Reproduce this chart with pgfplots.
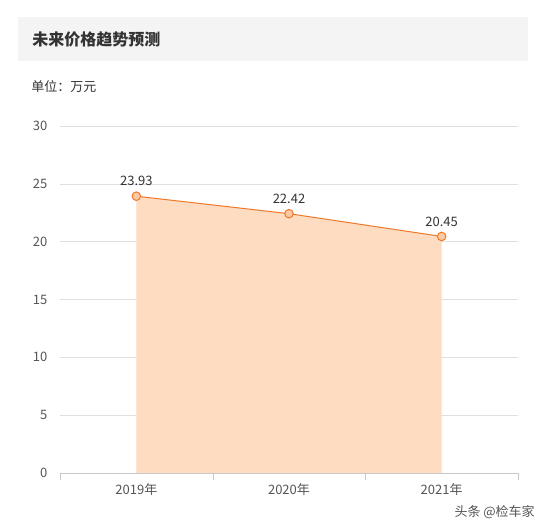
\documentclass[border=0pt]{standalone}
\usepackage{fontspec}
\setmainfont{Noto Sans CJK SC}
\usepackage{pgfplots}
\pgfplotsset{compat=1.18}
\definecolor{lineorange}{HTML}{F0782A}
\definecolor{areafill}{HTML}{FDDCC2}
\definecolor{markfill}{HTML}{FBC9A4}
\definecolor{titlegray}{HTML}{F4F4F4}
\definecolor{gridgray}{HTML}{E0E0E0}
\definecolor{axisgray}{HTML}{C8C8C8}
\definecolor{textdark}{HTML}{333333}
\definecolor{ticktext}{HTML}{555555}

\begin{document}
\begin{tikzpicture}[x=0.75pt,y=0.75pt]
% canvas 544 x 529 px
\fill[white] (0,0) rectangle (544,529);
\fill[titlegray] (18,468) rectangle (528,512);
\node[anchor=west,inner sep=0pt,text=textdark,font=\bfseries\fontsize{12}{14}\selectfont] at (32,490) {未来价格趋势预测};
\node[anchor=west,inner sep=0pt,text=textdark,font=\fontsize{9.75}{12}\selectfont] at (31,442) {单位：万元};

\begin{axis}[
    at={(45pt,42pt)}, anchor=south west,
    scale only axis,
    width=343.5pt, height=260.25pt,
    xmin=-0.5, xmax=2.5,
    ymin=0, ymax=30,
    ytick={0,5,...,30},
    xtick={0,1,2},
    xticklabels={2019年,2020年,2021年},
    axis lines*=left,
    x axis line style={draw=axisgray,-},
    y axis line style={draw=none},
    ymajorgrids,
    grid style={gridgray},
    major tick length=0pt,
    extra x ticks={-0.5,0.5,1.5,2.5},
    extra x tick labels={},
    extra x tick style={major tick length=5pt, tick align=outside, tick style={draw=axisgray}, grid=none},
    ticklabel style={text=ticktext, font=\fontsize{9.75}{12}\selectfont},
    yticklabel style={xshift=-6pt},
    xticklabel style={yshift=-4pt},
    /pgf/number format/assume math mode=true,
    clip=false,
]
\addplot[fill=areafill, draw=none] coordinates {(0,23.93) (1,22.42) (2,20.45)} \closedcycle;
\addplot[lineorange, line width=0.75pt, mark=*, mark size=3.2pt,
    mark options={fill=markfill, draw=lineorange, line width=0.75pt},
    nodes near coords,
    point meta=explicit symbolic,
    every node near coord/.style={text=textdark, font=\fontsize{9.75}{12}\selectfont, anchor=south, yshift=4pt}]
    coordinates {(0,23.93) [23.93] (1,22.42) [22.42] (2,20.45) [20.45]};
\end{axis}

\node[anchor=east,inner sep=0pt,text=ticktext,font=\fontsize{9.75}{12}\selectfont] at (535,17) {头条 @检车家};
\end{tikzpicture}
\end{document}
